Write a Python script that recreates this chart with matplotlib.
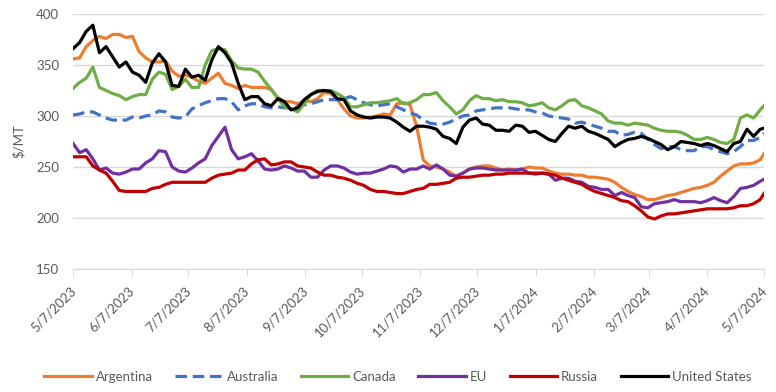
import numpy as np
import pandas as pd
import matplotlib
matplotlib.use('Agg')
import matplotlib.pyplot as plt
from matplotlib.transforms import ScaledTranslation

plt.rcParams['font.family'] = ['Lato', 'DejaVu Sans']

# readings every 3.5 days from 5/7/2023, last point is 5/7/2024
dates = list(pd.date_range('2023-05-07', periods=105, freq='84h')) + [pd.Timestamp('2024-05-07')]

argentina = [356, 357, 368, 374, 378, 376, 380, 380,
             377, 378, 363, 357, 353, 353, 354, 344,
             339, 340, 338, 334, 332, 337, 342, 332,
             330, 327, 330, 328, 328, 328, 326, 318,
             314, 314, 312, 315, 314, 317, 323, 322,
             316, 307, 300, 298, 298, 299, 300, 302,
             301, 312, 313, 311, 290, 257, 251, 250,
             248, 245, 241, 244, 248, 250, 251, 251,
             249, 247, 248, 247, 248, 250, 249, 249,
             246, 244, 243, 243, 242, 242, 240, 240,
             239, 238, 235, 230, 226, 223, 221, 218,
             218, 220, 222, 223, 225, 227, 229, 230,
             232, 235, 241, 246, 251, 253, 253, 254,
             257, 263]
australia = [301, 302, 304, 304, 301, 298, 296, 296,
             296, 299, 298, 300, 301, 305, 304, 299,
             298, 299, 307, 310, 313, 315, 317, 317,
             314, 306, 310, 312, 312, 309, 308, 309,
             308, 308, 309, 311, 312, 314, 316, 316,
             316, 317, 319, 316, 313, 311, 310, 311,
             312, 309, 306, 303, 301, 296, 293, 292,
             292, 294, 297, 300, 301, 305, 306, 307,
             308, 308, 308, 307, 306, 306, 304, 303,
             300, 299, 298, 297, 293, 294, 292, 290,
             288, 285, 285, 281, 282, 284, 283, 277,
             272, 268, 270, 270, 267, 266, 266, 270,
             270, 267, 265, 263, 265, 270, 276, 276,
             279, 283]
canada = [327, 333, 337, 348, 328, 325, 322, 320,
          316, 319, 321, 321, 336, 343, 341, 326,
          329, 336, 328, 328, 350, 364, 366, 365,
          354, 347, 346, 346, 343, 334, 326, 317,
          309, 307, 304, 312, 321, 325, 325, 325,
          322, 318, 309, 309, 311, 313, 313, 314,
          315, 317, 312, 313, 316, 321, 321, 323,
          315, 309, 302, 306, 315, 320, 317, 317,
          315, 316, 314, 314, 313, 310, 311, 313,
          308, 306, 310, 315, 316, 310, 308, 305,
          302, 295, 293, 293, 291, 293, 292, 291,
          288, 286, 285, 285, 284, 281, 277, 277,
          279, 277, 274, 273, 277, 298, 301, 298,
          306, 310]
eu = [273, 264, 267, 258, 247, 249, 244, 243,
      245, 248, 248, 254, 258, 266, 265, 250,
      246, 245, 249, 254, 258, 271, 280, 289,
      267, 258, 260, 263, 256, 248, 247, 248,
      251, 249, 246, 246, 240, 240, 247, 251,
      251, 249, 245, 243, 244, 244, 246, 248,
      251, 250, 245, 248, 248, 251, 248, 252,
      248, 242, 241, 244, 248, 249, 249, 248,
      247, 247, 247, 247, 248, 244, 243, 244,
      243, 237, 239, 239, 236, 235, 231, 230,
      228, 228, 222, 225, 222, 220, 211, 210,
      214, 215, 216, 218, 216, 216, 216, 215,
      217, 220, 217, 215, 221, 229, 230, 232,
      236, 238]
russia = [260, 260, 260, 251, 247, 244, 236, 227,
          226, 226, 226, 226, 229, 230, 233, 235,
          235, 235, 235, 235, 235, 239, 242, 243,
          244, 247, 247, 253, 257, 258, 252, 253,
          255, 255, 251, 250, 249, 245, 242, 242,
          240, 239, 237, 234, 232, 228, 226, 226,
          225, 224, 224, 226, 228, 229, 233, 233,
          234, 235, 239, 240, 240, 241, 242, 242,
          243, 243, 244, 244, 244, 244, 244, 244,
          243, 242, 239, 237, 235, 233, 229, 226,
          224, 222, 220, 217, 216, 212, 207, 201,
          199, 202, 204, 204, 205, 206, 207, 208,
          209, 209, 209, 209, 210, 212, 212, 214,
          218, 224]
united_states = [366, 372, 383, 389, 362, 368, 358, 348,
                 353, 343, 340, 333, 352, 361, 353, 330,
                 329, 346, 338, 340, 335, 355, 368, 362,
                 352, 332, 316, 319, 319, 312, 310, 317,
                 314, 306, 308, 316, 321, 324, 325, 324,
                 317, 316, 305, 301, 299, 298, 299, 299,
                 298, 294, 289, 285, 290, 290, 289, 287,
                 280, 278, 273, 289, 296, 298, 292, 291,
                 286, 286, 285, 291, 290, 284, 285, 281,
                 277, 275, 283, 290, 288, 290, 285, 283,
                 280, 277, 270, 274, 277, 278, 280, 278,
                 275, 272, 267, 270, 275, 274, 273, 271,
                 273, 271, 268, 265, 273, 275, 287, 280,
                 287, 288]

tick_dates = list(pd.date_range('2023-05-01', '2024-05-01', freq='MS') + pd.Timedelta(days=6))
tick_labels = [f'{d.month}/{d.day}/{d.year}' for d in tick_dates]

fig = plt.figure(figsize=(7.76, 3.92), dpi=100)
ax = fig.add_axes([0.0941, 0.3138, 0.8904, 0.6505])

lw = 2.3
ax.plot(dates, argentina, color='#ED7D31', lw=lw, label='Argentina')
ax.plot(dates, australia, color='#4472C4', lw=lw, dashes=(3.6, 1.8), label='Australia')
ax.plot(dates, canada, color='#70AD47', lw=lw, label='Canada')
ax.plot(dates, eu, color='#7030A0', lw=lw, label='EU')
ax.plot(dates, russia, color='#C00000', lw=lw, label='Russia')
ax.plot(dates, united_states, color='#000000', lw=lw, label='United States')

ax.set_xlim(pd.Timestamp('2023-05-07'), pd.Timestamp('2024-05-07'))
ax.set_ylim(150, 400)
ax.set_yticks(np.arange(150, 401, 50))
ax.grid(axis='y', color='#D9D9D9', lw=1)
ax.set_axisbelow(True)

for s in ['top', 'right', 'left']:
    ax.spines[s].set_visible(False)
ax.spines['bottom'].set_color('#D9D9D9')

ax.set_xticks(tick_dates)
ax.set_xticklabels(tick_labels, rotation=45, ha='right')
ax.tick_params(axis='x', colors='#D9D9D9', length=5, pad=6, labelcolor='#595959', labelsize=9.5)
ax.tick_params(axis='y', length=0, pad=10, labelcolor='#595959', labelsize=9.5)
for lab in ax.get_xticklabels():
    lab.set_transform(lab.get_transform() + ScaledTranslation(5 / 100, 0, fig.dpi_scale_trans))

ax.set_ylabel('$/MT', color='#595959', fontsize=9.5, labelpad=8)

fig.legend(loc='center', bbox_to_anchor=(398 / 776, 1 - 377 / 392), ncol=6, frameon=False,
           handlelength=3.6, handletextpad=0.3, columnspacing=1.7, fontsize=9.5,
           labelcolor='#595959')

fig.savefig('out.png', dpi=100)
